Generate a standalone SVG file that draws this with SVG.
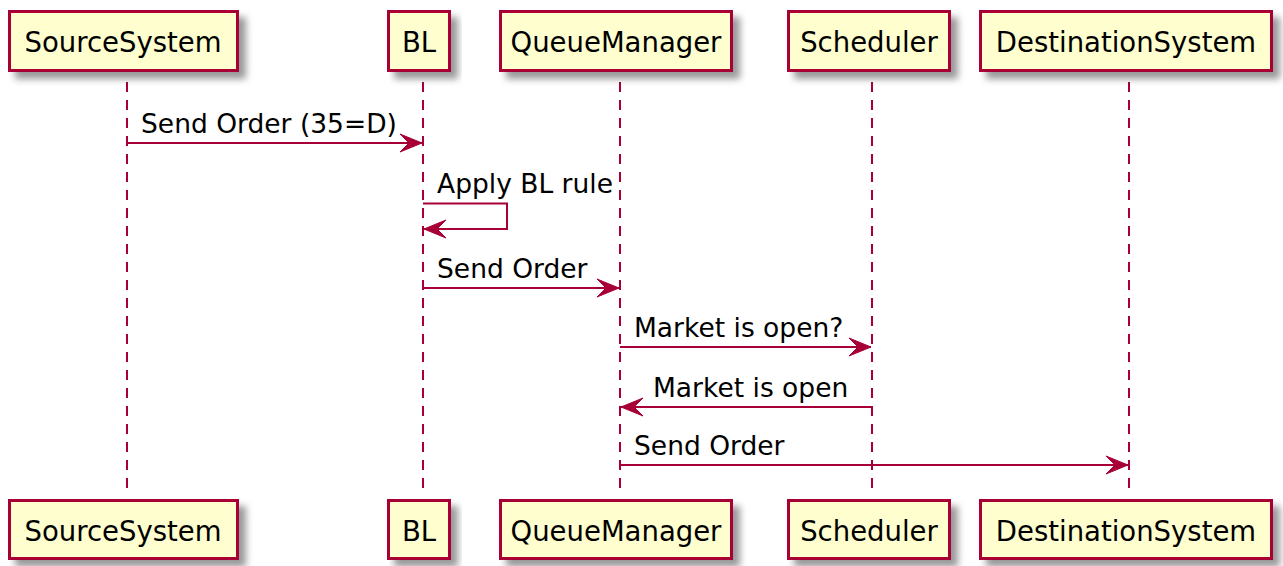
<svg xmlns="http://www.w3.org/2000/svg" width="1283" height="566" viewBox="0 0 1283 566">
  <style>
    .box { fill: #FEFECE; stroke: #A80036; stroke-width: 3; }
    .pname { font-family: "DejaVu Sans", Verdana, sans-serif; font-size: 27.5px; fill: #000; text-anchor: middle; }
    .life { stroke: #A80036; stroke-width: 2; stroke-dasharray: 10 8; fill: none; }
    .msg { stroke: #A80036; stroke-width: 2; fill: none; marker-end: url(#head); }
    .label { font-family: "DejaVu Sans", Verdana, sans-serif; font-size: 26.5px; fill: #000; }
  </style>
  <defs>
    <filter id="shadow" x="-10%" y="-20%" width="130%" height="160%">
      <feGaussianBlur in="SourceAlpha" stdDeviation="3.5"/>
      <feColorMatrix type="matrix" values="0 0 0 0 0  0 0 0 0 0  0 0 0 0 0  0 0 0 0.4 0"/>
      <feOffset dx="7" dy="7" result="shade"/>
      <feMerge>
        <feMergeNode in="shade"/>
        <feMergeNode in="SourceGraphic"/>
      </feMerge>
    </filter>
    <marker id="head" markerUnits="userSpaceOnUse" viewBox="0 0 22 20" refX="22" refY="10" markerWidth="22" markerHeight="20" orient="auto">
      <path d="M0,1 L22,10 L0,19 L9,10 Z" fill="#A80036" stroke="#A80036" stroke-width="1" stroke-linejoin="miter"/>
    </marker>
  </defs>

  <rect width="1283" height="566" fill="#FFFFFF"/>

  <!-- lifelines -->
  <g id="lifelines">
    <line class="life" x1="127" y1="82" x2="127" y2="490"/>
    <line class="life" x1="423" y1="82" x2="423" y2="490"/>
    <line class="life" x1="620" y1="82" x2="620" y2="490"/>
    <line class="life" x1="872" y1="82" x2="872" y2="490"/>
    <line class="life" x1="1129" y1="82" x2="1129" y2="490"/>
  </g>

  <!-- participants, head and foot -->
  <g id="SourceSystem">
    <rect class="box" x="9.5" y="11.5" width="228" height="59" filter="url(#shadow)"/>
    <text class="pname" x="123" y="52">SourceSystem</text>
    <rect class="box" x="9.5" y="500.5" width="228" height="58" filter="url(#shadow)"/>
    <text class="pname" x="123" y="540.5">SourceSystem</text>
  </g>
  <g id="BL">
    <rect class="box" x="388.5" y="11.5" width="61" height="59" filter="url(#shadow)"/>
    <text class="pname" x="419" y="52">BL</text>
    <rect class="box" x="388.5" y="500.5" width="61" height="58" filter="url(#shadow)"/>
    <text class="pname" x="419" y="540.5">BL</text>
  </g>
  <g id="QueueManager">
    <rect class="box" x="500.5" y="11.5" width="231" height="59" filter="url(#shadow)"/>
    <text class="pname" x="616" y="52">QueueManager</text>
    <rect class="box" x="500.5" y="500.5" width="231" height="58" filter="url(#shadow)"/>
    <text class="pname" x="616" y="540.5">QueueManager</text>
  </g>
  <g id="Scheduler">
    <rect class="box" x="788.5" y="11.5" width="161" height="59" filter="url(#shadow)"/>
    <text class="pname" x="869" y="52">Scheduler</text>
    <rect class="box" x="788.5" y="500.5" width="161" height="58" filter="url(#shadow)"/>
    <text class="pname" x="869" y="540.5">Scheduler</text>
  </g>
  <g id="DestinationSystem">
    <rect class="box" x="980.5" y="11.5" width="291" height="59" filter="url(#shadow)"/>
    <text class="pname" x="1126" y="52">DestinationSystem</text>
    <rect class="box" x="980.5" y="500.5" width="291" height="58" filter="url(#shadow)"/>
    <text class="pname" x="1126" y="540.5">DestinationSystem</text>
  </g>

  <!-- messages -->
  <g id="connectors">
    <line class="msg" x1="127" y1="143" x2="422" y2="143"/>
    <text class="label" x="141" y="133">Send Order (35=D)</text>

    <polyline class="msg" points="423,203.5 507,203.5 507,229 424,229"/>
    <text class="label" x="437" y="193">Apply BL rule</text>

    <line class="msg" x1="423" y1="288" x2="619" y2="288"/>
    <text class="label" x="437" y="278">Send Order</text>

    <line class="msg" x1="620" y1="347" x2="871" y2="347"/>
    <text class="label" x="634" y="337">Market is open?</text>

    <line class="msg" x1="872" y1="407" x2="621" y2="407"/>
    <text class="label" x="653" y="397">Market is open</text>

    <line class="msg" x1="620" y1="465" x2="1128" y2="465"/>
    <text class="label" x="634" y="455">Send Order</text>
  </g>
</svg>
